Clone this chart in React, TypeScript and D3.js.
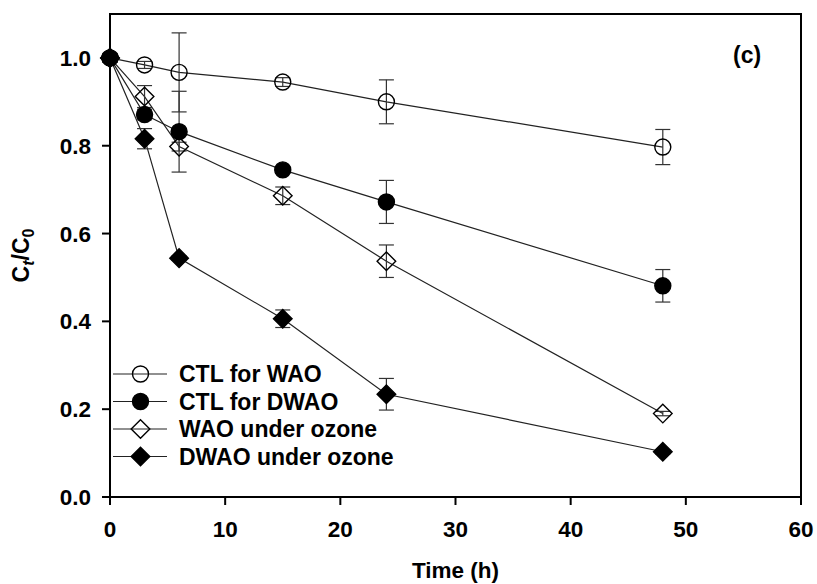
import React from "react";
import * as d3 from "d3";

const times = [0, 3, 6, 15, 24, 48];
const ctlWAO = [1.0, 0.984, 0.967, 0.945, 0.9, 0.797];
const ctlWAOErr = [0.01, 0.008, 0.09, 0.01, 0.05, 0.04];
const ctlDWAO = [1.0, 0.871, 0.832, 0.745, 0.672, 0.481];
const ctlDWAOErr = [0.01, 0.012, 0.092, 0.008, 0.049, 0.037];
const waoOzone = [1.0, 0.912, 0.798, 0.686, 0.537, 0.19];
const waoOzoneErr = [0.01, 0.025, 0.01, 0.02, 0.037, 0.005];
const dwaoOzone = [1.0, 0.816, 0.544, 0.406, 0.234, 0.103];
const dwaoOzoneErr = [0.01, 0.023, 0.005, 0.02, 0.036, 0.005];

const seriesNames = ["CTL for WAO", "CTL for DWAO", "WAO under ozone", "DWAO under ozone"];
const xTicks = [0, 10, 20, 30, 40, 50, 60];
const yTicks = [0, 0.2, 0.4, 0.6, 0.8, 1.0];

type Shape = "circle" | "diamond";
const series = [
  { name: seriesNames[0], values: ctlWAO, err: ctlWAOErr, shape: "circle" as Shape, filled: false },
  { name: seriesNames[1], values: ctlDWAO, err: ctlDWAOErr, shape: "circle" as Shape, filled: true },
  { name: seriesNames[2], values: waoOzone, err: waoOzoneErr, shape: "diamond" as Shape, filled: false },
  { name: seriesNames[3], values: dwaoOzone, err: dwaoOzoneErr, shape: "diamond" as Shape, filled: true },
];

const FONT = "'Liberation Sans', Arial, Helvetica, sans-serif";

function Marker({ x, y, shape, filled }: { x: number; y: number; shape: Shape; filled: boolean }) {
  const fill = filled ? "#000" : "none";
  if (shape === "circle") {
    return <circle cx={x} cy={y} r={8} fill={fill} stroke="#000" strokeWidth={1.4} />;
  }
  const s = 9.3;
  return (
    <path
      d={`M${x},${y - s}L${x + s},${y}L${x},${y + s}L${x - s},${y}Z`}
      fill={fill}
      stroke="#000"
      strokeWidth={1.4}
    />
  );
}

export default function App() {
  const W = 817;
  const H = 584;
  const x = d3.scaleLinear().domain([0, 60]).range([110, 801]);
  const y = d3.scaleLinear().domain([0, 1.1]).range([497, 14]);
  const line = d3
    .line<number>()
    .x((_, i) => x(times[i]))
    .y((d) => y(d));

  const legendRows = [374, 401.5, 429, 456.5];

  return (
    <svg
      width={W}
      height={H}
      style={{ position: "absolute", left: 0, top: 0, background: "#fff" }}
      fontFamily={FONT}
    >
      <rect width={W} height={H} fill="#fff" />
      {series.map((s) => (
        <path key={"l" + s.name} d={line(s.values) || ""} fill="none" stroke="#222" strokeWidth={1.2} />
      ))}
      {series.map((s) =>
        s.values.map((v, i) => {
          const cx = x(times[i]);
          const y1 = y(v + s.err[i]);
          const y2 = y(v - s.err[i]);
          return (
            <g key={"e" + s.name + i} stroke="#333" strokeWidth={1.2}>
              <line x1={cx} x2={cx} y1={y1} y2={y2} />
              <line x1={cx - 7.5} x2={cx + 7.5} y1={y1} y2={y1} />
              <line x1={cx - 7.5} x2={cx + 7.5} y1={y2} y2={y2} />
            </g>
          );
        })
      )}
      {series.map((s) =>
        s.values.map((v, i) => (
          <Marker key={"m" + s.name + i} x={x(times[i])} y={y(v)} shape={s.shape} filled={s.filled} />
        ))
      )}
      <rect
        x={x(0)}
        y={y(1.1)}
        width={x(60) - x(0)}
        height={y(0) - y(1.1)}
        fill="none"
        stroke="#000"
        strokeWidth={2}
      />
      {xTicks.map((t) => (
        <g key={"xt" + t}>
          <line x1={x(t)} x2={x(t)} y1={y(0)} y2={y(0) + 8} stroke="#000" strokeWidth={2} />
          <text x={x(t)} y={537} textAnchor="middle" fontSize={22.5} fontWeight="bold">
            {t}
          </text>
        </g>
      ))}
      {yTicks.map((t) => (
        <g key={"yt" + t}>
          <line x1={x(0) - 8} x2={x(0)} y1={y(t)} y2={y(t)} stroke="#000" strokeWidth={2} />
          <text x={91} y={y(t)} dy="0.36em" textAnchor="end" fontSize={22.5} fontWeight="bold">
            {t.toFixed(1)}
          </text>
        </g>
      ))}
      <text x={(x(0) + x(60)) / 2} y={578} textAnchor="middle" fontSize={22.5} fontWeight="bold">
        Time (h)
      </text>
      <text
        transform={`translate(29, ${(y(0) + y(1.1)) / 2}) rotate(-90)`}
        textAnchor="middle"
        fontSize={23}
        fontWeight="bold"
      >
        C
        <tspan fontSize={16} dy={5} fontStyle="italic">t</tspan>
        <tspan dy={-5}>/C</tspan>
        <tspan fontSize={16} dy={5}>0</tspan>
      </text>
      <text x={733} y={63} fontSize={23} fontWeight="bold">
        (c)
      </text>
      {series.map((s, i) => (
        <g key={"lg" + s.name}>
          <line x1={113} x2={167} y1={legendRows[i]} y2={legendRows[i]} stroke="#222" strokeWidth={1.2} />
          <Marker x={140.5} y={legendRows[i]} shape={s.shape} filled={s.filled} />
          <text x={179} y={legendRows[i]} dy="0.36em" fontSize={23} fontWeight="bold">
            {s.name}
          </text>
        </g>
      ))}
    </svg>
  );
}
